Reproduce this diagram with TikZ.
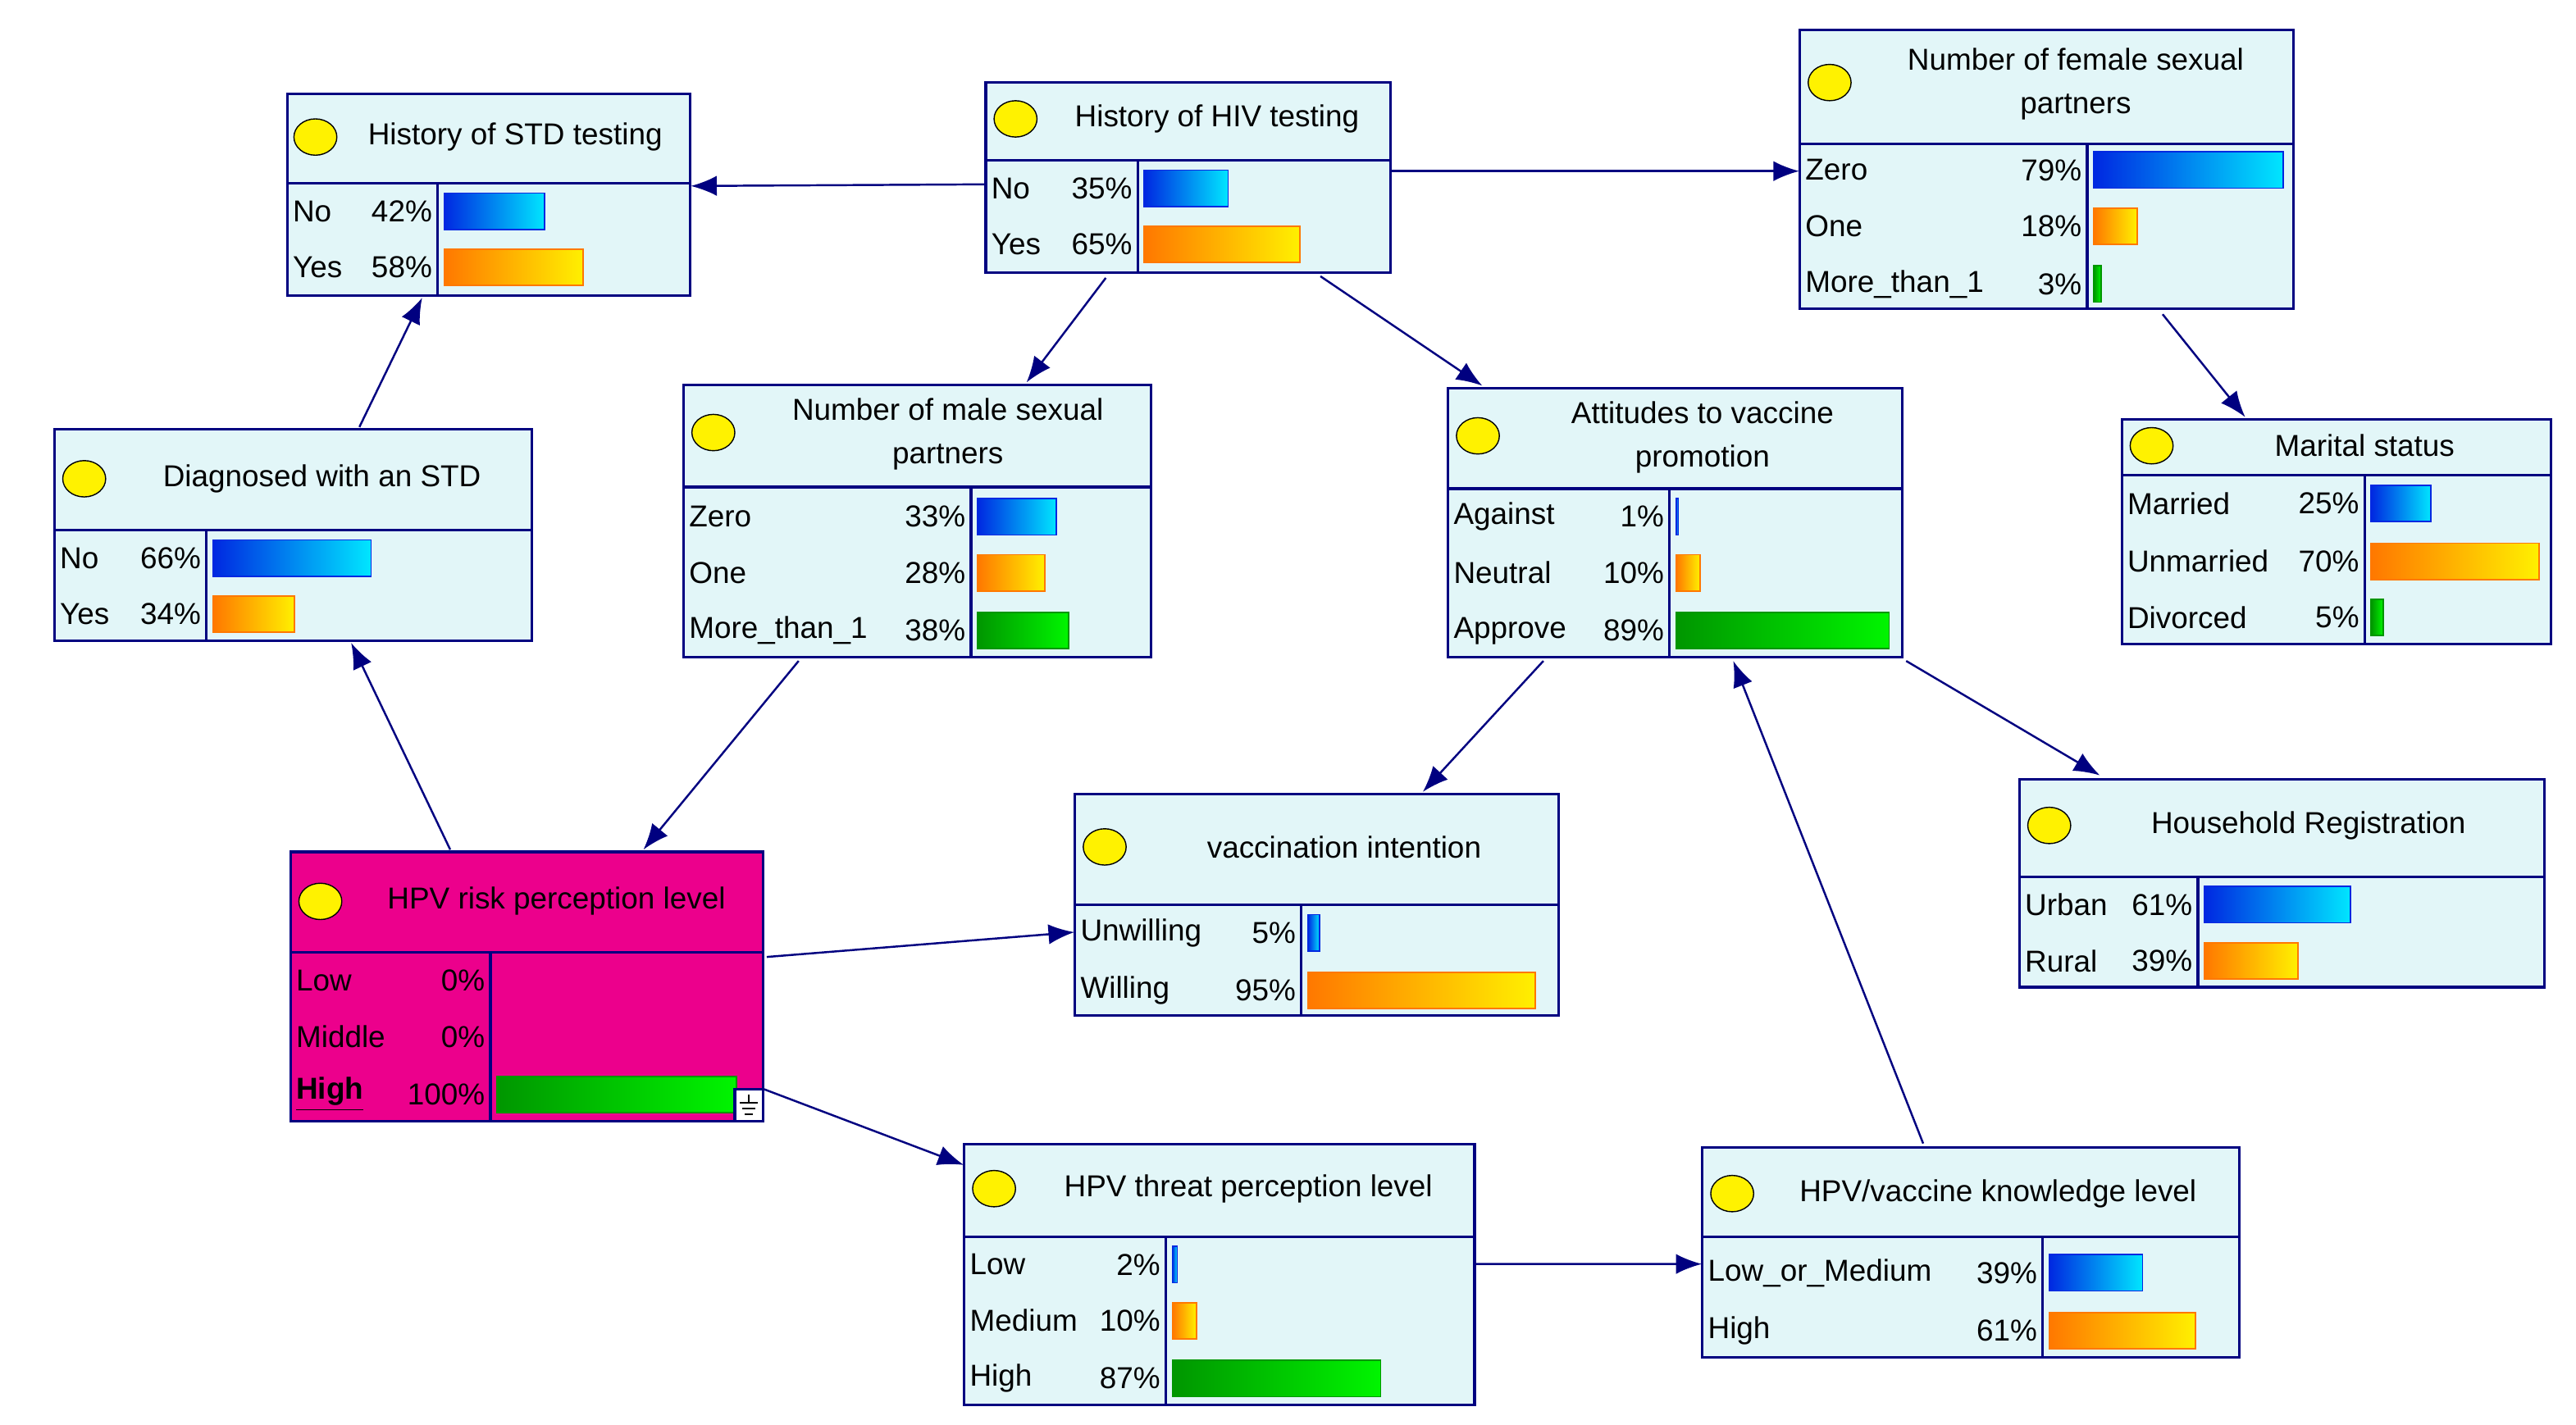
\documentclass[tikz,border=0pt]{standalone}
\usepackage{fontspec}
\setmainfont{Liberation Sans}
\usetikzlibrary{arrows.meta,fit,calc}
\definecolor{navy}{RGB}{0,0,128}
\definecolor{headfill}{RGB}{226,246,248}
\definecolor{bluedark}{RGB}{0,40,225}
\definecolor{bluelight}{RGB}{0,230,255}
\definecolor{orangedark}{RGB}{255,120,0}
\definecolor{orangelight}{RGB}{255,240,0}
\definecolor{greendark}{RGB}{0,150,0}
\definecolor{greenlight}{RGB}{0,245,0}
\tikzset{
  box/.style={draw=navy, line width=0.9pt},
  link/.style={draw=navy, line width=0.7pt, -{Latex[length=9pt,width=7pt]}},
  lamp/.style={draw=black, fill=yellow, line width=0.4pt},
  title/.style={align=center, inner sep=0},
}
% box: name, x1, y1, x2, y2, header bottom, split, fill
\newcommand{\bnbox}[8]{
  \fill[#8] (#2,#3) rectangle (#4,#5);
  \draw[box] (#2,#3) rectangle (#4,#5);
  \draw[box] (#2,#6) -- (#4,#6);
  \draw[box] (#7,#6) -- (#7,#5);
  \node[fit={(#2,#3)(#4,#5)}, inner sep=0] (#1) {};
}
% row: x1, split, y, label, pct, colour
\newcommand{\bnrow}[6]{
  \node[anchor=west, inner sep=0] at (#1+3,#3) {#4};
  \node[anchor=east, inner sep=0] at (#2-3,#3) {#5\%};
  \ifdim #5pt>0pt
    \shade[left color=#6dark, right color=#6light] (#2+4,#3-11) rectangle (#2+4+1.45*#5,#3+11);
    \draw[#6dark, line width=0.5pt] (#2+4,#3-11) rectangle (#2+4+1.45*#5,#3+11);
  \fi
}
\newcommand{\lampat}[2]{\draw[lamp] (#1,#2) ellipse (13 and 11);}
\begin{document}
\begin{tikzpicture}[x=0.020135cm, y=-0.020135cm, font=\fontsize{10.5}{15}\selectfont]
\useasboundingbox (0,0) rectangle (1560,863);
\fill[white] (0,0) rectangle (1560,863);

% nodes
\bnbox{std}{174}{57}{418}{179}{111}{265}{headfill}
\lampat{191}{83}
\node[title] at (312,83) {History of STD testing};
\bnrow{174}{265}{128}{No}{42}{blue}
\bnrow{174}{265}{162}{Yes}{58}{orange}

\bnbox{hiv}{597}{50}{842}{165}{97}{689}{headfill}
\lampat{615}{72}
\node[title] at (737,72) {History of HIV testing};
\bnrow{597}{689}{114}{No}{35}{blue}
\bnrow{597}{689}{148}{Yes}{65}{orange}

\bnbox{female}{1090}{18}{1389}{187}{87}{1264}{headfill}
\lampat{1108}{50}
\node[title] at (1257,51) {Number of female sexual\\partners};
\bnrow{1090}{1264}{103}{Zero}{79}{blue}
\bnrow{1090}{1264}{137}{One}{18}{orange}
\bnrow{1090}{1264}{172}{More\_than\_1}{3}{green}

\bnbox{marital}{1285}{254}{1545}{390}{288}{1432}{headfill}
\lampat{1303}{270}
\node[title] at (1432,270) {Marital status};
\bnrow{1285}{1432}{305}{Married}{25}{blue}
\bnrow{1285}{1432}{340}{Unmarried}{70}{orange}
\bnrow{1285}{1432}{374}{Divorced}{5}{green}

\bnbox{diag}{33}{260}{322}{388}{321}{125}{headfill}
\lampat{51}{290}
\node[title] at (195,290) {Diagnosed with an STD};
\bnrow{33}{125}{338}{No}{66}{blue}
\bnrow{33}{125}{372}{Yes}{34}{orange}

\bnbox{male}{414}{233}{697}{398}{295}{588}{headfill}
\lampat{432}{262}
\node[title] at (574,263) {Number of male sexual\\partners};
\bnrow{414}{588}{313}{Zero}{33}{blue}
\bnrow{414}{588}{347}{One}{28}{orange}
\bnrow{414}{588}{382}{More\_than\_1}{38}{green}

\bnbox{attitude}{877}{235}{1152}{398}{296}{1011}{headfill}
\lampat{895}{264}
\node[title] at (1031,265) {Attitudes to vaccine\\promotion};
\bnrow{877}{1011}{313}{Against}{1}{blue}
\bnrow{877}{1011}{347}{Neutral}{10}{orange}
\bnrow{877}{1011}{382}{Approve}{89}{green}

\bnbox{house}{1223}{472}{1541}{598}{531}{1331}{headfill}
\lampat{1241}{500}
\node[title] at (1398,500) {Household Registration};
\bnrow{1223}{1331}{548}{Urban}{61}{blue}
\bnrow{1223}{1331}{582}{Rural}{39}{orange}

\bnbox{intent}{651}{481}{944}{615}{548}{788}{headfill}
\lampat{669}{513}
\node[title] at (814,513) {vaccination intention};
\bnrow{651}{788}{565}{Unwilling}{5}{blue}
\bnrow{651}{788}{600}{Willing}{95}{orange}

\bnbox{risk}{176}{516}{462}{679}{577}{297}{magenta}
\lampat{194}{546}
\node[title] at (337,546) {HPV risk perception level};
\bnrow{176}{297}{594}{Low}{0}{blue}
\bnrow{176}{297}{628}{Middle}{0}{orange}
\bnrow{176}{297}{663}{\underline{\textbf{High}}}{100}{green}
\draw[box, fill=white] (445,660) rectangle (462,679);
\draw[black, line width=0.5pt] (453.5,663) -- (453.5,668) (448,668) -- (459,668) (449.5,671.5) -- (457.5,671.5) (451,675) -- (456,675);

\bnbox{threat}{584}{693}{893}{851}{749}{706}{headfill}
\lampat{602}{720}
\node[title] at (756,720) {HPV threat perception level};
\bnrow{584}{706}{766}{Low}{2}{blue}
\bnrow{584}{706}{800}{Medium}{10}{orange}
\bnrow{584}{706}{835}{High}{87}{green}

\bnbox{know}{1031}{695}{1356}{822}{749}{1237}{headfill}
\lampat{1049}{723}
\node[title] at (1210,723) {HPV/vaccine knowledge level};
\bnrow{1031}{1237}{771}{Low\_or\_Medium}{39}{blue}
\bnrow{1031}{1237}{806}{High}{61}{orange}

% links
\draw[link] ($(hiv.north west)+(0,62)$) -- ($(std.north east)+(0,56)$);
\draw[link] ($(hiv.north east)+(0,54)$) -- ($(female.north west)+(0,86)$);
\draw[link] ($(hiv.south west)+(73,3)$) -- ($(male.north west)+(208,-1)$);
\draw[link] ($(hiv.south west)+(203,2)$) -- ($(attitude.north west)+(21,-1)$);
\draw[link] ($(female.south west)+(220,3)$) -- ($(marital.north west)+(75,-1)$);
\draw[link] ($(diag.north west)+(185,-1)$) -- ($(std.south west)+(82,1)$);
\draw[link] ($(risk.north west)+(97,-1)$) -- ($(diag.south west)+(180,1)$);
\draw[link] ($(male.south west)+(70,2)$) -- ($(risk.north west)+(214,-1)$);
\draw[link] ($(attitude.south west)+(58,2)$) -- ($(intent.north west)+(211,-1)$);
\draw[link] ($(attitude.south east)+(2,2)$) -- ($(house.north west)+(49,-2)$);
\draw[link] ($(risk.north east)+(2,64)$) -- ($(intent.north west)+(0,84)$);
\draw[link] ($(risk.north east)+(0,144)$) -- ($(threat.north west)+(0,13)$);
\draw[link] ($(threat.north east)+(0,73)$) -- ($(know.north west)+(0,71)$);
\draw[link] ($(know.north west)+(134,-2)$) -- ($(attitude.south west)+(173,2)$);
\end{tikzpicture}
\end{document}
